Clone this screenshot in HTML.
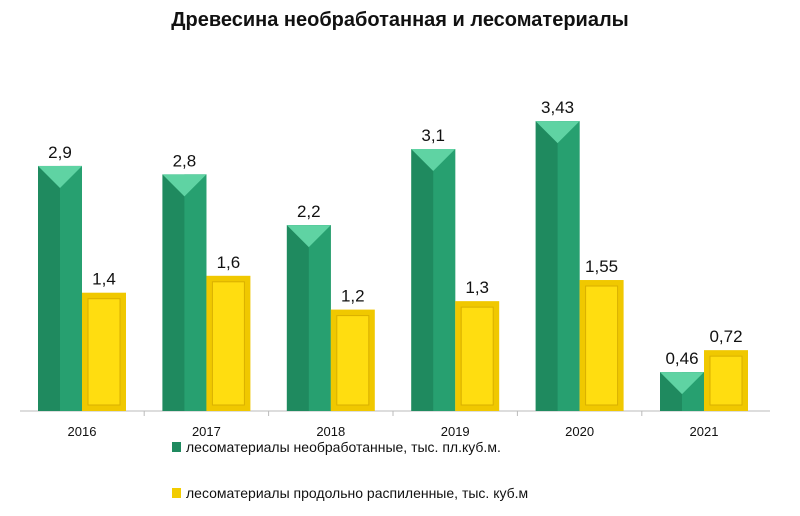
<!DOCTYPE html>
<html><head><meta charset="utf-8"><style>
body{margin:0;background:#fff;font-family:"Liberation Sans",sans-serif}
#wrap{position:relative;width:800px;height:516px;overflow:hidden}
</style></head><body>
<div id="wrap">
<svg id="svg" width="800" height="516">
<text x="400" y="26" text-anchor="middle" font-size="20" font-weight="bold" fill="#111">Древесина  необработанная  и лесоматериалы</text>
<line x1="20" y1="411" x2="770" y2="411" stroke="#bbb" stroke-width="1"/>
<g id="bars"></g>
<rect x="172" y="442" width="9" height="10" fill="#1f8a5f"/>
<text x="186" y="452" font-size="14" fill="#111">лесоматериалы необработанные, тыс. пл.куб.м.</text>
<rect x="172" y="488" width="9" height="10" fill="#f2cc00"/>
<text x="186" y="498" font-size="14" fill="#111">лесоматериалы продольно распиленные, тыс. куб.м</text>
</svg></div>
<script>
const categories=["2016","2017","2018","2019","2020","2021"];
const seriesGreen=[2.9,2.8,2.2,3.1,3.43,0.46];
const seriesYellow=[1.4,1.6,1.2,1.3,1.55,0.72];
const greenLabels=["2,9","2,8","2,2","3,1","3,43","0,46"];
const yellowLabels=["1,4","1,6","1,2","1,3","1,55","0,72"];
const base=411,scale=84.5,x0=82,step=124.4,bw=44;
const yS=v=>base-v*scale, xS=i=>x0+i*step;
const NS="http://www.w3.org/2000/svg",g=document.getElementById("bars");
function mk(t,a){const e=document.createElementNS(NS,t);for(const k in a)e.setAttribute(k,a[k]);g.appendChild(e);return e;}
categories.forEach((c,i)=>{
 const cx=xS(i);
 // green
 const gx=cx-bw,gy=yS(seriesGreen[i]),gh=base-gy;
 let e=mk("rect",{x:gx,y:gy,width:bw,height:gh,fill:"#1f8a5f"});
 
 e=mk("rect",{x:gx+bw/2,y:gy,width:bw/2,height:gh,fill:"#27a070"});
 
 const th=Math.min(22,gh);
 e=mk("polygon",{points:`${gx},${gy} ${gx+bw},${gy} ${gx+bw/2},${gy+th}`,fill:"#5fd3a3"});
 
 e=mk("text",{x:gx+bw/2,y:gy-8,"text-anchor":"middle","font-size":"17",fill:"#111"});
 e.textContent=greenLabels[i];
 
 // yellow
 const yx=cx,yy=yS(seriesYellow[i]),yh=base-yy;
 e=mk("rect",{x:yx,y:yy,width:bw,height:yh,fill:"#f0c800"});
 
 e=mk("rect",{x:yx+6,y:yy+6,width:bw-12,height:Math.max(0,yh-12),fill:"#ffdd10",stroke:"#d9b000","stroke-width":"1"});
 
 e=mk("text",{x:yx+bw/2,y:yy-8,"text-anchor":"middle","font-size":"17",fill:"#111"});
 e.textContent=yellowLabels[i];
 
 e=mk("text",{x:cx,y:436,"text-anchor":"middle","font-size":"13",fill:"#111"});
 e.textContent=c;
 
 if(i>0){e=mk("line",{x1:cx-step/2,y1:411,x2:cx-step/2,y2:416,stroke:"#bbb"});
 }
});
</script>
</body></html>
